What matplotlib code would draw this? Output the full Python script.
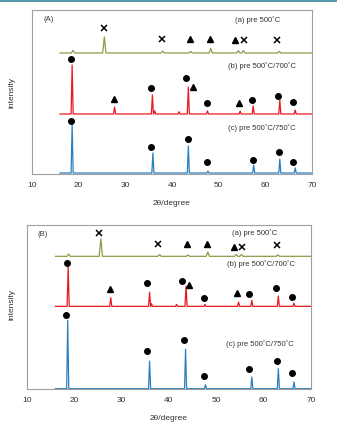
import numpy as np
import matplotlib
matplotlib.use("Agg")
import matplotlib.pyplot as plt
from matplotlib.lines import Line2D

plt.rcParams['font.family'] = ['Liberation Sans', 'DejaVu Sans']

# ---- data (arbitrary intensity units) ----
# panel A
a_green_base = 73.8
a_green_peaks = [(18.8, 75.5), (25.5, 83.5), (38.0, 75.0), (44.0, 74.8),
                 (48.3, 76.5), (54.2, 75.2), (55.3, 75.3), (63.0, 74.8)]
a_red_base = 36.6
a_red_peaks = [(18.6, 66.5), (27.7, 40.9), (35.8, 48.2), (36.3, 38.5),
               (41.5, 38.0), (43.5, 53.0), (47.6, 38.4), (54.6, 38.4),
               (57.4, 41.5), (63.1, 45.1), (66.4, 39.0)]
a_blue_base = 0.6
a_blue_peaks = [(18.6, 29.9), (35.9, 12.8), (43.5, 17.1), (47.7, 1.8),
                (57.5, 5.5), (63.1, 9.1), (66.4, 3.7)]

a_cross = ([25.4, 37.9, 55.4, 62.6], [89.0, 82.3, 81.7, 82.0])
a_tri_green = ([43.9, 48.1, 53.6], [82.3, 82.3, 81.7])
a_tri_red = ([27.5, 44.4, 54.3], [45.7, 53.0, 43.3])
a_dot_red = ([18.4, 35.4, 43.0, 47.6, 57.2, 62.7, 66.0],
             [70.1, 52.4, 58.5, 43.3, 45.1, 47.6, 43.9])
a_dot_blue = ([18.4, 35.6, 43.4, 47.6, 57.4, 62.9, 66.0],
              [32.3, 16.5, 21.3, 7.3, 8.5, 13.4, 7.3])

# panel B
b_green_base = 80.9
b_green_peaks = [(18.8, 82.3), (25.6, 91.6), (38.0, 82.0), (44.0, 81.8),
                 (48.2, 83.5), (54.2, 82.0), (55.3, 82.0), (63.0, 81.8)]
b_red_base = 50.4
b_red_peaks = [(18.7, 74.4), (27.7, 55.7), (35.9, 59.1), (36.3, 52.0),
               (41.6, 51.6), (43.6, 62.8), (47.6, 51.6), (54.7, 53.0),
               (57.5, 54.1), (63.1, 56.7), (66.4, 52.4)]
b_blue_base = 0.2
b_blue_peaks = [(18.6, 41.9), (35.9, 17.1), (43.5, 24.2), (47.7, 2.6),
                (57.5, 7.3), (63.1, 12.4), (66.4, 4.3)]

b_cross = ([25.2, 37.7, 55.4, 62.8], [95.1, 88.2, 86.6, 88.0])
b_tri_green = ([43.8, 48.0, 53.7], [88.2, 88.6, 86.6])
b_tri_red = ([27.5, 44.3, 54.4], [60.8, 63.4, 58.3])
b_dot_red = ([18.5, 35.4, 42.7, 47.4, 57.0, 62.7, 66.0],
             [77.0, 64.6, 66.0, 55.5, 57.9, 61.4, 55.9])
b_dot_blue = ([18.3, 35.4, 43.2, 47.4, 57.0, 62.8, 66.0],
              [45.3, 23.0, 29.9, 7.7, 12.4, 17.3, 9.8])

labels = ["(a) pre 500˚C", "(b) pre 500˚C/700˚C", "(c) pre 500˚C/750˚C"]
a_label_pos = [(58.4, 93.9), (59.3, 65.9), (59.3, 28.0)]
b_label_pos = [(58.0, 95.1), (59.4, 76.0), (59.2, 27.6)]

GREEN = '#8c9b48'
RED = '#e8191f'
BLUE = '#2a7fc0'


def pattern(base, peaks, w):
    xs = [16.0]
    ys = [base]
    for p, h in peaks:
        xs += [p - w, p, p + w]
        ys += [base, h, base]
    xs.append(70.0)
    ys.append(base)
    return xs, ys


def panel(ax, tag, tag_x, curves, marks, label_pos):
    for base, peaks, col, w in curves:
        x, y = pattern(base, peaks, w)
        ax.plot(x, y, color=col, lw=0.9)
    cross, tri_g, tri_r, dot_r, dot_b = marks
    ax.plot(*cross, 'x', color='black', ms=4, mew=1.1, ls='none')
    for m in (tri_g, tri_r):
        ax.plot(*m, '^', color='black', ms=4, ls='none')
    for m in (dot_r, dot_b):
        ax.plot(*m, 'o', color='black', ms=4, ls='none')
    for txt, (x, y) in zip(labels, label_pos):
        ax.text(x, y, txt, ha='center', va='center', fontsize=5.5, color='#333333')
    ax.text(tag_x, 94, tag, ha='center', va='center', fontsize=5.5, color='#333333')
    ax.set_xlim(10, 70)
    ax.set_ylim(0, 100)
    ax.set_xticks([10, 20, 30, 40, 50, 60, 70])
    ax.set_yticks([])
    ax.tick_params(axis='x', length=0, labelsize=6, colors='#333333', pad=6)
    for s in ax.spines.values():
        s.set_color('#a0a0a0')
        s.set_linewidth(0.8)
    ax.set_xlabel('2θ/degree', fontsize=6, color='#333333', labelpad=8)


W, H = 337, 425
fig = plt.figure(figsize=(W / 100, H / 100), dpi=100)

axA = fig.add_axes([32 / W, (H - 174) / H, 280 / W, 164 / H])
panel(axA, '(A)', 13.6,
      [(a_green_base, a_green_peaks, GREEN, 0.35),
       (a_red_base, a_red_peaks, RED, 0.22),
       (a_blue_base, a_blue_peaks, BLUE, 0.22)],
      (a_cross, a_tri_green, a_tri_red, a_dot_red, a_dot_blue), a_label_pos)

axB = fig.add_axes([27 / W, (H - 389) / H, 284 / W, 164 / H])
panel(axB, '(B)', 13.3,
      [(b_green_base, b_green_peaks, GREEN, 0.35),
       (b_red_base, b_red_peaks, RED, 0.22),
       (b_blue_base, b_blue_peaks, BLUE, 0.22)],
      (b_cross, b_tri_green, b_tri_red, b_dot_red, b_dot_blue), b_label_pos)

# y labels placed in figure pixels
fig.text(12 / W, 1 - 92 / H, 'intensity', rotation=90, ha='center', va='center',
         fontsize=6, color='#333333')
fig.text(12 / W, 1 - 305 / H, 'intensity', rotation=90, ha='center', va='center',
         fontsize=6, color='#333333')

fig.add_artist(Line2D([0, 1], [0.998, 0.998], transform=fig.transFigure,
                      color='#5a98ae', lw=1.5))

fig.savefig('out.png', dpi=100)
